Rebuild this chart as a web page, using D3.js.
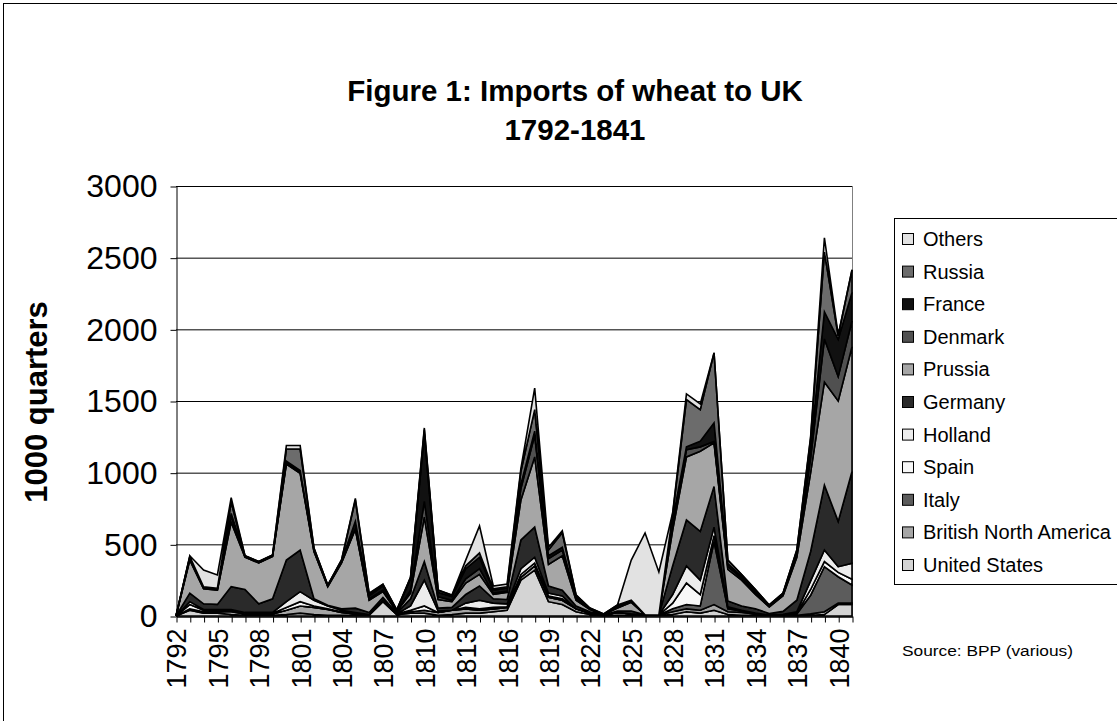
<!DOCTYPE html>
<html>
<head>
<meta charset="utf-8">
<script src="https://cdn.jsdelivr.net/npm/d3@7"></script>
<style>
  body { margin: 0; background: #fff; }
  svg { font-family: "Liberation Sans", Arial, sans-serif; }
</style>
</head>
<body>
<div id="vis"></div>
<script>
// years on the category axis
var years = d3.range(1792, 1842);

// series, bottom of the stack first (1000 quarters)
var unitedStates = [0,40,20,20,10,5,5,5,10,20, 10,5,5,5,5,100,10,20,20,5, 10,20,20,30,40,250,320,100,80,30, 10,2,5,5,5,5,10,30,20,40, 10,5,5,3,2,2,5,10,80,80];
var britishNorthAmerica = [0,10,10,10,20,10,10,10,30,50, 50,40,20,10,5,10,5,10,20,20, 30,30,20,20,20,20,30,30,30,20, 10,4,20,10,4,2,20,20,20,40, 20,20,10,5,5,3,10,20,10,10];
var italy = [0,0,0,0,5,0,0,0,0,0, 0,0,0,0,0,0,0,0,0,0, 0,0,0,0,0,0,0,0,0,0, 0,0,0,0,0,0,20,30,30,440, 20,10,5,0,5,10,130,314,184,126];
var spain = [0,30,10,10,5,5,5,5,20,30, 10,5,5,5,0,0,0,10,30,0, 0,10,10,10,5,20,20,10,10,0, 0,0,0,0,0,0,40,150,80,40, 5,0,0,0,0,5,40,36,30,40];
var holland = [0,20,5,5,5,5,5,5,40,70, 40,20,10,5,0,0,0,30,180,10, 0,30,60,30,20,40,40,20,20,0, 0,0,0,0,0,0,60,120,100,60, 10,5,0,0,0,10,60,81,40,112];
var germany = [0,60,40,36,160,160,60,95,290,290, 10,5,10,30,15,20,5,50,130,20, 20,60,100,30,30,200,210,50,40,20, 10,0,10,20,0,0,200,320,340,283, 40,30,30,10,20,80,205,453,316,640];
var prussia = [0,230,105,100,450,225,285,295,670,535, 330,130,320,550,85,40,10,40,310,60, 40,80,80,30,50,280,490,150,240,40, 15,5,20,60,0,0,250,440,560,305, 220,180,100,45,110,300,550,719,840,870];
var denmark = [0,10,3,3,40,3,3,3,10,10, 5,3,5,5,10,10,0,20,110,20, 10,30,40,10,10,80,150,40,40,10, 3,0,5,5,0,0,40,50,30,10, 20,15,15,5,8,20,100,300,170,180];
var france = [0,10,5,5,20,5,5,5,10,10, 10,5,10,50,20,30,10,80,470,30, 25,70,80,20,20,30,30,20,20,10, 3,0,5,5,0,0,30,20,40,130, 20,10,10,5,5,15,80,190,260,200];
var russia = [0,5,5,5,80,2,2,3,85,150, 10,3,6,150,15,10,2,10,30,15, 10,20,30,9,8,90,150,40,100,15, 5,3,12,5,0,0,40,330,220,488, 26,15,10,4,5,15,60,416,25,157];
var others = [0,5,118,92,30,0,0,0,25,25, 0,0,0,10,5,3,0,0,12,1, 2,40,188,20,20,20,150,20,15,2, 0,0,0,280,570,300,10,40,40,0, 0,0,0,0,0,0,10,100,6,0];

var seriesNames = ["United States", "British North America", "Italy", "Spain", "Holland",
  "Germany", "Prussia", "Denmark", "France", "Russia", "Others"];
var seriesValues = [unitedStates, britishNorthAmerica, italy, spain, holland,
  germany, prussia, denmark, france, russia, others];
var seriesColors = ["#d4d4d4", "#a6a6a6", "#5c5c5c", "#f8f8f8", "#ececec",
  "#2a2a2a", "#a6a6a6", "#505050", "#111111", "#6c6c6c", "#e2e2e2"];

var yTicks = [0, 500, 1000, 1500, 2000, 2500, 3000];

// build rows for d3.stack
var rows = years.map(function(yr, i) {
  var r = { year: yr };
  seriesNames.forEach(function(n, k) { r[n] = seriesValues[k][i]; });
  return r;
});

var svg = d3.select("#vis").append("svg")
  .attr("width", 1117)
  .attr("height", 721);

// outer chart border
svg.append("rect")
  .attr("x", 3.5).attr("y", 3.5)
  .attr("width", 1200).attr("height", 800)
  .attr("fill", "#fff").attr("stroke", "#000").attr("stroke-width", 1);

var x = d3.scaleLinear().domain([1792, 1841]).range([176, 852]);
var y = d3.scaleLinear().domain([0, 3000]).range([616, 186]);

// gridlines
svg.append("g")
  .selectAll("line")
  .data(yTicks.slice(1))
  .enter().append("line")
  .attr("x1", 176).attr("x2", 852)
  .attr("y1", function(d) { return y(d) + 0.5; })
  .attr("y2", function(d) { return y(d) + 0.5; })
  .attr("stroke", "#000").attr("stroke-width", 1);

// right edge of plot area
svg.append("line")
  .attr("x1", 852.5).attr("x2", 852.5)
  .attr("y1", 186).attr("y2", 616)
  .attr("stroke", "#808080");

var stack = d3.stack().keys(seriesNames);
var layers = stack(rows);

var area = d3.area()
  .x(function(d) { return x(d.data.year); })
  .y0(function(d) { return y(d[0]); })
  .y1(function(d) { return y(d[1]); });

svg.append("g")
  .selectAll("path")
  .data(layers)
  .enter().append("path")
  .attr("d", area)
  .attr("fill", function(d, i) { return seriesColors[i]; })
  .attr("stroke", "#000")
  .attr("stroke-width", 1.6)
  .attr("stroke-linejoin", "miter");

// y axis
var yAxis = svg.append("g")
  .attr("transform", "translate(176.5,0.5)")
  .call(d3.axisLeft(y).tickValues(yTicks).tickSize(6).tickSizeOuter(0).tickPadding(13).tickFormat(d3.format("d")));
yAxis.select(".domain").attr("stroke", "#000");
yAxis.selectAll("text")
  .attr("font-size", "32px")
  .attr("font-family", "Liberation Sans, Arial, sans-serif")
  .attr("fill", "#000");

// x axis
var xAxis = svg.append("g")
  .attr("transform", "translate(0.5,616.5)")
  .call(d3.axisBottom(x).tickValues(years).tickSize(6).tickSizeOuter(0)
    .tickFormat(function(d) { return (d - 1792) % 3 === 0 ? d : ""; }));
xAxis.select(".domain").attr("stroke", "#000").attr("stroke-width", 1.5);
xAxis.selectAll("text")
  .attr("font-size", "27px")
  .attr("font-family", "Liberation Sans, Arial, sans-serif")
  .attr("fill", "#000")
  .attr("text-anchor", "end")
  .attr("transform", "rotate(-90)")
  .attr("x", -12)
  .attr("y", 0)
  .attr("dy", "0.35em");

// titles
svg.append("text")
  .attr("x", 575).attr("y", 101)
  .attr("text-anchor", "middle")
  .attr("font-size", "29.5px").attr("font-weight", "bold")
  .text("Figure 1: Imports of wheat to UK");
svg.append("text")
  .attr("x", 575).attr("y", 140)
  .attr("text-anchor", "middle")
  .attr("font-size", "29.5px").attr("font-weight", "bold")
  .text("1792-1841");

svg.append("text")
  .attr("transform", "translate(47,402) rotate(-90)")
  .attr("text-anchor", "middle")
  .attr("font-size", "31px").attr("font-weight", "bold")
  .text("1000 quarters");

// legend
var legend = svg.append("g");
legend.append("rect")
  .attr("x", 894.5).attr("y", 218.5)
  .attr("width", 300).attr("height", 366)
  .attr("fill", "#fff").attr("stroke", "#000");

var legendOrder = d3.range(seriesNames.length).reverse();
var item = legend.selectAll("g.item")
  .data(legendOrder)
  .enter().append("g")
  .attr("class", "item")
  .attr("transform", function(d, i) { return "translate(0," + (239 + i * 32.6) + ")"; });
item.append("rect")
  .attr("x", 902.5).attr("y", -5.5)
  .attr("width", 11).attr("height", 11)
  .attr("fill", function(d) { return seriesColors[d]; })
  .attr("stroke", "#000");
item.append("text")
  .attr("x", 923).attr("y", 7)
  .attr("font-size", "20px")
  .text(function(d) { return seriesNames[d]; });

svg.append("text")
  .attr("x", 902).attr("y", 656)
  .attr("font-size", "14px")
  .attr("textLength", 171)
  .attr("lengthAdjust", "spacingAndGlyphs")
  .text("Source: BPP (various)");
</script>
</body>
</html>
